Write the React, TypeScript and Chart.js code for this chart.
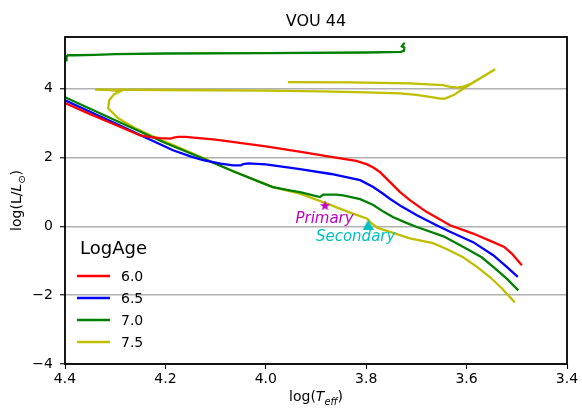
import React, { useEffect, useRef } from "react";
import { Chart, registerables } from "chart.js";

Chart.register(...registerables);

const FAMILY = "'DejaVu Sans', 'Noto Sans', sans-serif";

// ---------- text / labels ----------
const chartTitle = "VOU 44";
const legendTitle = "LogAge";
const ageLabels = ["6.0", "6.5", "7.0", "7.5"];
const ageColors = ["#ff0000", "#0000ff", "#008000", "#bfbf00"];

const xTicks = [4.4, 4.2, 4.0, 3.8, 3.6, 3.4];
const yTicks = [-4, -2, 0, 2, 4];

// ---------- isochrones ----------
const age60_logT = [4.40, 4.35, 4.30, 4.25, 4.23, 4.21, 4.19, 4.183, 4.175, 4.16, 4.10, 4.00, 3.93, 3.87, 3.82, 3.798, 3.785, 3.773, 3.755, 3.733, 3.713, 3.68, 3.633, 3.587, 3.547, 3.525, 3.51, 3.49];
const age60_logL = [3.58, 3.26, 2.95, 2.64, 2.59, 2.56, 2.55, 2.58, 2.60, 2.60, 2.52, 2.32, 2.16, 2.02, 1.90, 1.80, 1.70, 1.58, 1.32, 1.00, 0.76, 0.42, 0.03, -0.21, -0.46, -0.60, -0.79, -1.13];

const age65_logT = [4.40, 4.30, 4.185, 4.15, 4.125, 4.09, 4.065, 4.05, 4.045, 4.035, 4.00, 3.932, 3.87, 3.812, 3.786, 3.765, 3.753, 3.73, 3.699, 3.66, 3.633, 3.587, 3.547, 3.52, 3.498];
const age65_logL = [3.66, 2.99, 2.21, 2.03, 1.92, 1.82, 1.77, 1.77, 1.81, 1.83, 1.80, 1.66, 1.52, 1.34, 1.14, 0.93, 0.80, 0.58, 0.32, 0.03, -0.16, -0.46, -0.84, -1.18, -1.47];

const age70_logT = [4.40, 4.30, 4.20, 4.125, 4.065, 4.00, 3.986, 3.95, 3.932, 3.892, 3.886, 3.86, 3.846, 3.812, 3.786, 3.765, 3.747, 3.72, 3.699, 3.646, 3.60, 3.57, 3.547, 3.52, 3.497];
const age70_logL = [3.75, 3.08, 2.42, 1.97, 1.60, 1.22, 1.14, 1.04, 0.99, 0.85, 0.92, 0.92, 0.90, 0.79, 0.62, 0.42, 0.27, 0.10, -0.02, -0.29, -0.65, -0.90, -1.18, -1.52, -1.86];

const age70_upper_logT = [4.398, 4.397, 4.394, 4.38, 4.34, 4.30, 4.20, 4.00, 3.80, 3.731, 3.725, 3.724, 3.729, 3.726, 3.723];
const age70_upper_logL = [4.82, 4.93, 4.97, 4.97, 4.98, 5.00, 5.02, 5.03, 5.05, 5.07, 5.10, 5.19, 5.23, 5.29, 5.33];

const age75_logT = [3.504, 3.53, 3.553, 3.58, 3.607, 3.64, 3.667, 3.713, 3.759, 3.778, 3.79, 3.798, 3.832, 3.878, 3.932, 3.986, 4.065, 4.13, 4.19, 4.231, 4.257, 4.294, 4.314, 4.312, 4.302, 4.29, 4.31, 4.34, 4.31, 4.20, 4.00, 3.89, 3.80, 3.733, 3.70, 3.67, 3.653, 3.643, 3.625, 3.613, 3.593, 3.543, 3.575, 3.593, 3.607, 3.619, 3.635, 3.647, 3.713, 3.832, 3.956];
const age75_logL = [-2.21, -1.80, -1.48, -1.17, -0.90, -0.66, -0.49, -0.35, -0.13, -0.04, 0.10, 0.22, 0.40, 0.66, 0.95, 1.14, 1.60, 2.02, 2.40, 2.65, 2.83, 3.14, 3.43, 3.66, 3.84, 3.92, 3.96, 3.97, 3.97, 3.96, 3.94, 3.92, 3.89, 3.86, 3.82, 3.75, 3.71, 3.71, 3.82, 3.94, 4.12, 4.56, 4.29, 4.13, 4.06, 4.03, 4.06, 4.10, 4.15, 4.18, 4.19];

// ---------- stars ----------
const starNames = ["Primary", "Secondary"];
const starColors = ["#bf00bf", "#00bfbf"];
const star_logT = [3.882, 3.796];
const star_logL = [0.61, 0.05];
const starLabel_logT = [3.883, 3.821];
const starLabel_logL = [0.10, -0.42];

const pts = (xs: number[], ys: number[]) => xs.map((x, i) => ({ x, y: ys[i] }));

function makeStarImage(color: string, size: number) {
  const c = document.createElement("canvas");
  c.width = size;
  c.height = size;
  const g = c.getContext("2d")!;
  const r = size / 2;
  const ri = r * 0.42;
  g.beginPath();
  for (let i = 0; i < 10; i++) {
    const a = -Math.PI / 2 + (i * Math.PI) / 5;
    const rr = i % 2 === 0 ? r : ri;
    g.lineTo(r + rr * Math.cos(a), r + 0.5 + rr * Math.sin(a));
  }
  g.closePath();
  g.fillStyle = color;
  g.fill();
  return c;
}

function makeTriangleImage(color: string, w: number, h: number) {
  const c = document.createElement("canvas");
  c.width = w;
  c.height = h;
  const g = c.getContext("2d")!;
  g.beginPath();
  g.moveTo(w / 2, 0);
  g.lineTo(w, h);
  g.lineTo(0, h);
  g.closePath();
  g.fillStyle = color;
  g.fill();
  return c;
}

type Part = { t: string; it?: boolean; sub?: boolean };

function richWidth(ctx: CanvasRenderingContext2D, parts: Part[], size: number) {
  let w = 0;
  for (const p of parts) {
    ctx.font = `${p.it ? "italic " : ""}${p.sub ? size * 0.7 : size}px ${FAMILY}`;
    w += ctx.measureText(p.t).width;
  }
  return w;
}

function drawRich(ctx: CanvasRenderingContext2D, parts: Part[], size: number, cx: number, baseline: number) {
  const total = richWidth(ctx, parts, size);
  let x = cx - total / 2;
  ctx.textAlign = "left";
  ctx.textBaseline = "alphabetic";
  for (const p of parts) {
    ctx.font = `${p.it ? "italic " : ""}${p.sub ? size * 0.7 : size}px ${FAMILY}`;
    ctx.fillText(p.t, x, baseline + (p.sub ? size * 0.25 : 0));
    x += ctx.measureText(p.t).width;
  }
}

const decorPlugin = {
  id: "decor",
  afterDraw(chart: any) {
    const { ctx, chartArea: a, scales } = chart;
    const xs = scales.x;
    const ys = scales.y;
    ctx.save();

    // frame
    ctx.strokeStyle = "#000";
    ctx.lineWidth = 1.8;
    ctx.strokeRect(a.left, a.top, a.right - a.left, a.bottom - a.top);

    // title
    ctx.fillStyle = "#000";
    ctx.font = `16px ${FAMILY}`;
    ctx.textAlign = "center";
    ctx.textBaseline = "alphabetic";
    ctx.fillText(chartTitle, (a.left + a.right) / 2, 26);

    // x label
    drawRich(ctx, [{ t: "log(" }, { t: "T", it: true }, { t: "eff", it: true, sub: true }, { t: ")" }], 14, (a.left + a.right) / 2, 401);

    // y label
    ctx.save();
    ctx.translate(21, (a.top + a.bottom) / 2);
    ctx.rotate(-Math.PI / 2);
    drawRich(ctx, [{ t: "log(L/" }, { t: "L", it: true }, { t: "\u2299", sub: true }, { t: ")" }], 14, 0, 0);
    ctx.restore();

    // legend
    ctx.fillStyle = "#000";
    ctx.font = `18px ${FAMILY}`;
    ctx.textAlign = "left";
    ctx.textBaseline = "alphabetic";
    ctx.fillText(legendTitle, 80, 254);
    ctx.font = `14px ${FAMILY}`;
    ctx.textBaseline = "middle";
    ageLabels.forEach((lab, i) => {
      const y = 276 + i * 22;
      ctx.strokeStyle = ageColors[i];
      ctx.lineWidth = 2.3;
      ctx.beginPath();
      ctx.moveTo(77, y);
      ctx.lineTo(110, y);
      ctx.stroke();
      ctx.fillStyle = "#000";
      ctx.fillText(lab, 121, y + 1);
    });

    // star labels
    ctx.font = `italic 15px ${FAMILY}`;
    ctx.textAlign = "center";
    ctx.textBaseline = "alphabetic";
    starNames.forEach((name, i) => {
      ctx.fillStyle = starColors[i];
      ctx.fillText(name, xs.getPixelForValue(starLabel_logT[i]), ys.getPixelForValue(starLabel_logL[i]));
    });

    ctx.restore();
  },
};

export default function App() {
  const ref = useRef<HTMLCanvasElement | null>(null);

  useEffect(() => {
    document.body.style.margin = "0";
    const canvas = ref.current!;
    const lineDs = (label: string, data: any[], color: string) => ({
      label,
      data,
      showLine: true,
      borderColor: color,
      backgroundColor: color,
      borderWidth: 2.3,
      pointRadius: 0,
      pointHoverRadius: 0,
      tension: 0,
      spanGaps: false,
      order: 2,
    });

    const chart = new Chart(canvas, {
      type: "scatter",
      data: {
        datasets: [
          lineDs(ageLabels[0], pts(age60_logT, age60_logL), ageColors[0]),
          lineDs(ageLabels[1], pts(age65_logT, age65_logL), ageColors[1]),
          lineDs(ageLabels[2], pts(age70_logT, age70_logL), ageColors[2]),
          lineDs(ageLabels[2] + " upper", pts(age70_upper_logT, age70_upper_logL), ageColors[2]),
          lineDs(ageLabels[3], pts(age75_logT, age75_logL), ageColors[3]),
          {
            label: starNames[0],
            data: [{ x: star_logT[0], y: star_logL[0] }],
            pointStyle: makeStarImage(starColors[0], 11) as any,
            pointRadius: 5,
            showLine: false,
            borderWidth: 0,
            order: 0,
          },
          {
            label: starNames[1],
            data: [{ x: star_logT[1], y: star_logL[1] }],
            pointStyle: makeTriangleImage(starColors[1], 11, 10) as any,
            pointRadius: 6,
            showLine: false,
            borderWidth: 0,
            order: 0,
          },
        ] as any,
      },
      options: {
        animation: false,
        responsive: false,
        maintainAspectRatio: false,
        events: [],
        layout: { padding: { top: 37, right: 15, left: 0, bottom: 0 } },
        plugins: {
          legend: { display: false },
          title: { display: false },
          tooltip: { enabled: false },
        },
        scales: {
          x: {
            type: "linear",
            reverse: true,
            min: 3.4,
            max: 4.4,
            afterFit: (s: any) => {
              s.height = 47;
            },
            afterBuildTicks: (s: any) => {
              s.ticks = xTicks.map((v) => ({ value: v }));
            },
            ticks: {
              color: "#000",
              font: { family: FAMILY, size: 14 },
              padding: 2,
              maxRotation: 0,
              autoSkip: false,
              callback: (v: any) => Number(v).toFixed(1),
            },
            grid: {
              drawOnChartArea: false,
              drawTicks: true,
              tickLength: 5,
              tickColor: "#000",
              tickWidth: 1.1,
            },
            border: { display: false },
          },
          y: {
            type: "linear",
            min: -4,
            max: 5.5,
            afterFit: (s: any) => {
              s.width = 65;
            },
            afterBuildTicks: (s: any) => {
              s.ticks = yTicks.map((v) => ({ value: v }));
            },
            ticks: {
              color: "#000",
              font: { family: FAMILY, size: 14 },
              padding: 7,
              autoSkip: false,
              callback: (v: any) => (Number(v) < 0 ? "\u2212" + Math.abs(Number(v)) : String(v)),
            },
            grid: {
              color: "#b0b0b0",
              lineWidth: 1.5,
              drawTicks: true,
              tickLength: 5,
              tickColor: "#000",
              tickWidth: 1.1,
            },
            border: { display: false },
          },
        },
      } as any,
      plugins: [decorPlugin],
    });

    return () => chart.destroy();
  }, []);

  return (
    <div style={{ width: 582, height: 411 }}>
      <canvas ref={ref} width={582} height={411} style={{ display: "block", width: 582, height: 411 }} />
    </div>
  );
}
